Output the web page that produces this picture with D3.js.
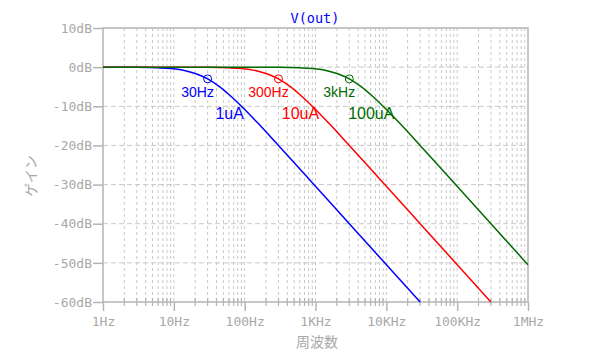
<!DOCTYPE html>
<html>
<head>
<meta charset="utf-8">
<script src="https://cdn.jsdelivr.net/npm/d3@7"></script>
<style>
  body { margin: 0; background: #fff; }
  svg { display: block; }
</style>
</head>
<body>
<svg id="chart" width="600" height="361"></svg>
<script>
// values (freq in Hz, gain in dB)
const freqBlue = [1, 3, 6, 9, 15, 21, 30, 45, 60, 90, 150, 300, 3000, 30000];
const gainBlue = [0, -0.04, -0.17, -0.37, -0.97, -1.74, -3.0, -5.1, -7.0, -10.0, -14.1, -20.0, -40.0, -60.0];
const freqRed = [1, 30, 60, 90, 150, 210, 300, 450, 600, 900, 1500, 3000, 30000, 300000];
const gainRed = [0, -0.04, -0.17, -0.37, -0.97, -1.74, -3.0, -5.1, -7.0, -10.0, -14.1, -20.0, -40.0, -60.0];
const freqGreen = [1, 300, 600, 900, 1500, 2100, 3000, 4500, 6000, 9000, 15000, 30000, 300000, 1000000];
const gainGreen = [0, -0.04, -0.17, -0.37, -0.97, -1.74, -3.0, -5.1, -7.0, -10.0, -14.1, -20.0, -40.0, -50.5];

const cutoffFreqs = [30, 300, 3000];
const cutoffGain = -3;
const cutoffLabels = ["30Hz", "300Hz", "3kHz"];
const currentLabels = ["1uA", "10uA", "100uA"];

const xTicks = [1, 10, 100, 1000, 10000, 100000, 1000000];
const xTickLabels = ["1Hz", "10Hz", "100Hz", "1KHz", "10KHz", "100KHz", "1MHz"];
const yTicks = [10, 0, -10, -20, -30, -40, -50, -60];

const colors = ["#0000ff", "#ff0000", "#006a00"];
const grey = "#b4b4b4";
const textGrey = "#a8a8a8";
const mono = "'DejaVu Sans Mono', monospace";

const margin = { top: 28, right: 72, bottom: 59, left: 103 };
const width = 600 - margin.left - margin.right;
const height = 361 - margin.top - margin.bottom;

const svg = d3.select("#chart");
const g = svg.append("g").attr("transform", `translate(${margin.left},${margin.top})`);

const x = d3.scaleLog().domain([1, 1000000]).range([0, width]);
const y = d3.scaleLinear().domain([-60, 10]).range([height, 0]);

// minor frequencies 2..9 in each decade
const minorFreqs = [];
for (let d = 0; d < 6; d++) {
  for (let m = 2; m <= 9; m++) minorFreqs.push(m * Math.pow(10, d));
}

// vertical grid (dotted)
g.append("g")
  .selectAll("line")
  .data(minorFreqs.concat(xTicks.slice(1, -1)))
  .join("line")
  .attr("x1", (d) => x(d))
  .attr("x2", (d) => x(d))
  .attr("y1", 0)
  .attr("y2", height)
  .attr("stroke", "#c8c8c8")
  .attr("stroke-width", 1)
  .attr("stroke-dasharray", "3,3");

// horizontal grid (dashed)
g.append("g")
  .selectAll("line")
  .data(yTicks.slice(1, -1))
  .join("line")
  .attr("x1", 0)
  .attr("x2", width)
  .attr("y1", (d) => y(d))
  .attr("y2", (d) => y(d))
  .attr("stroke", "#c8c8c8")
  .attr("stroke-width", 1)
  .attr("stroke-dasharray", "5,3");

// frame
g.append("rect")
  .attr("width", width)
  .attr("height", height)
  .attr("fill", "none")
  .attr("stroke", grey)
  .attr("stroke-width", 1.5);

// y axis
const yAxis = g.append("g")
  .call(d3.axisLeft(y).tickValues(yTicks).tickSize(10).tickFormat((d) => d + "dB"));
yAxis.select(".domain").remove();
yAxis.selectAll("line").attr("stroke", grey).attr("stroke-width", 1.5);
yAxis.selectAll("text")
  .attr("fill", textGrey)
  .attr("font-family", mono)
  .attr("font-size", 13)
  .attr("x", -11);

// x axis, decade ticks
const xAxis = g.append("g")
  .attr("transform", `translate(0,${height})`)
  .call(d3.axisBottom(x).tickValues(xTicks).tickSize(9).tickFormat((d, i) => xTickLabels[i]));
xAxis.select(".domain").remove();
xAxis.selectAll("line").attr("stroke", grey).attr("stroke-width", 1.5);
xAxis.selectAll("text")
  .attr("fill", textGrey)
  .attr("font-family", mono)
  .attr("font-size", 13)
  .attr("y", 15);

// minor ticks across the bottom axis
g.append("g")
  .selectAll("line")
  .data(minorFreqs)
  .join("line")
  .attr("x1", (d) => x(d))
  .attr("x2", (d) => x(d))
  .attr("y1", height - 4)
  .attr("y2", height + 4)
  .attr("stroke", grey)
  .attr("stroke-width", 1.2);

// curves
const series = [
  { f: freqBlue, v: gainBlue },
  { f: freqRed, v: gainRed },
  { f: freqGreen, v: gainGreen },
];
const line = d3.line()
  .x((d) => x(d[0]))
  .y((d) => y(d[1]))
  .curve(d3.curveMonotoneX);

series.forEach((s, i) => {
  g.append("path")
    .datum(s.f.map((f, j) => [f, s.v[j]]))
    .attr("fill", "none")
    .attr("stroke", colors[i])
    .attr("stroke-width", 1.5)
    .attr("d", line);
});

// -3dB markers and labels
g.append("g")
  .selectAll("circle")
  .data(cutoffFreqs)
  .join("circle")
  .attr("cx", (d) => x(d))
  .attr("cy", y(cutoffGain))
  .attr("r", 4)
  .attr("fill", "none")
  .attr("stroke", (d, i) => colors[i])
  .attr("stroke-width", 1);

g.append("g")
  .selectAll("text")
  .data(cutoffLabels)
  .join("text")
  .attr("x", (d, i) => x(cutoffFreqs[i]) - 10)
  .attr("y", y(cutoffGain) + 14)
  .attr("text-anchor", "middle")
  .attr("dominant-baseline", "middle")
  .attr("fill", (d, i) => colors[i])
  .attr("font-family", "'Liberation Sans', Arial, sans-serif")
  .attr("font-size", 14)
  .text((d) => d);

g.append("g")
  .selectAll("text")
  .data(currentLabels)
  .join("text")
  .attr("x", (d, i) => x(cutoffFreqs[i]) + 22)
  .attr("y", y(cutoffGain) + 36)
  .attr("text-anchor", "middle")
  .attr("dominant-baseline", "middle")
  .attr("fill", (d, i) => colors[i])
  .attr("font-family", "'Liberation Sans', Arial, sans-serif")
  .attr("font-size", 16)
  .text((d) => d);

// titles
svg.append("text")
  .attr("x", 315)
  .attr("y", 19)
  .attr("text-anchor", "middle")
  .attr("dominant-baseline", "middle")
  .attr("fill", "#0000ff")
  .attr("font-family", mono)
  .attr("font-size", 13.5)
  .text("V(out)");

svg.append("text")
  .attr("x", 317)
  .attr("y", 343)
  .attr("text-anchor", "middle")
  .attr("dominant-baseline", "middle")
  .attr("fill", textGrey)
  .attr("font-family", "'Noto Sans CJK JP', sans-serif")
  .attr("font-size", 14)
  .text("周波数");

svg.append("text")
  .attr("transform", "translate(32,176) rotate(-90)")
  .attr("text-anchor", "middle")
  .attr("dominant-baseline", "middle")
  .attr("fill", textGrey)
  .attr("font-family", "'Noto Sans CJK JP', sans-serif")
  .attr("font-size", 14)
  .text("ゲイン");
</script>
</body>
</html>
